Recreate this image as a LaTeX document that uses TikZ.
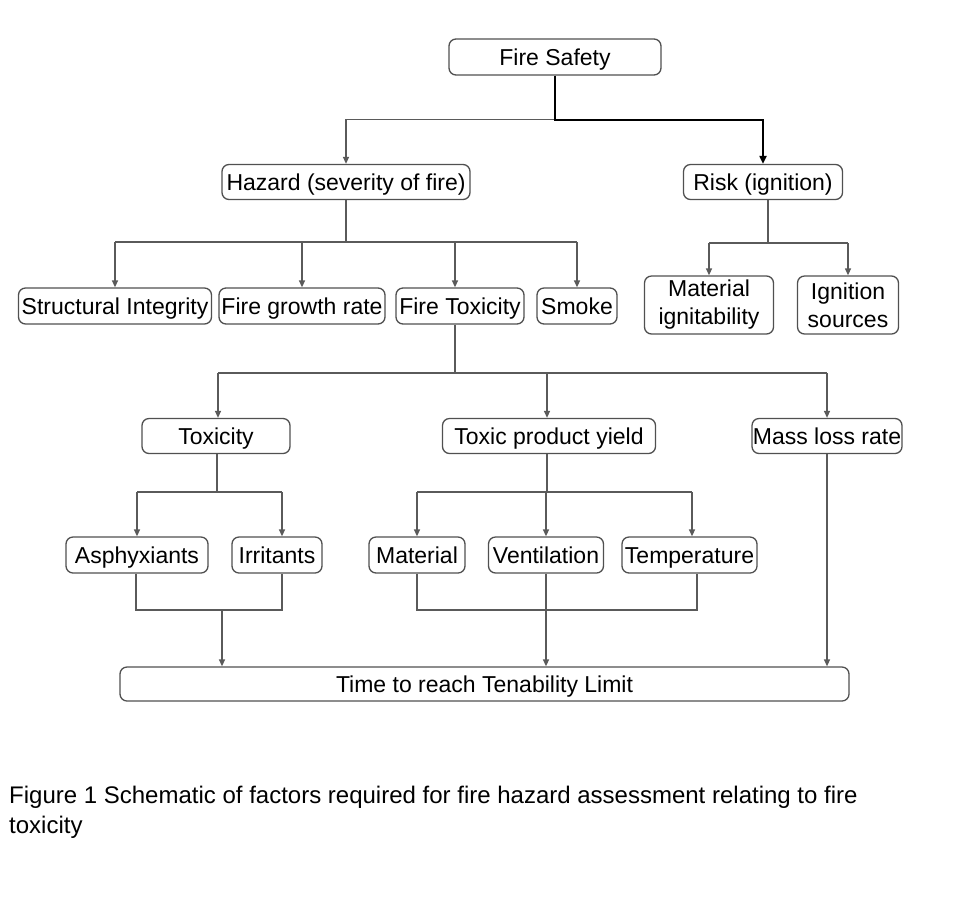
\documentclass[tikz,border=0pt]{standalone}
\usepackage{fontspec}
\setmainfont{Liberation Sans}
\usetikzlibrary{arrows.meta,calc}
\definecolor{boxgray}{HTML}{505050}
\definecolor{linegray}{HTML}{5A5A5A}
\tikzset{
  box/.style={draw=boxgray, rounded corners=7pt, line width=1.3pt, inner sep=0pt, align=center,
    font=\fontsize{23}{28}\selectfont, text height=16.5pt, text depth=0pt},
  twoline/.style={text height={}, text depth={}},
  ln/.style={draw=linegray, line width=1.3pt},
  arr/.style={ln, -{Triangle[length=7pt,width=6pt]}},
}
\begin{document}
\begin{tikzpicture}[x=1pt,y=-1pt]
\useasboundingbox (0,0) rectangle (965,906);
% level 0
\node[box, minimum width=212, minimum height=36] (fs) at (555,57) {Fire Safety};
% level 1
\node[box, minimum width=248, minimum height=35] (haz) at (346,182) {Hazard (severity of fire)};
\node[box, minimum width=159, minimum height=35] (risk) at (763,182) {Risk (ignition)};
% level 2
\node[box, minimum width=193, minimum height=36] (si) at (115,306) {Structural Integrity};
\node[box, minimum width=166, minimum height=36] (fgr) at (302,306) {Fire growth rate};
\node[box, minimum width=128, minimum height=36] (ft) at (460,306) {Fire Toxicity};
\node[box, minimum width=80, minimum height=36] (sm) at (577,306) {Smoke};
\node[box, twoline, minimum width=129, minimum height=58] (mi) at (709,305) {Material\\ignitability};
\node[box, twoline, minimum width=101, minimum height=58] (is) at (848,305) {Ignition\\sources};
% level 3
\node[box, minimum width=148, minimum height=35] (tox) at (216,436) {Toxicity};
\node[box, minimum width=213, minimum height=35] (tpy) at (549,436) {Toxic product yield};
\node[box, minimum width=150, minimum height=35] (mlr) at (827,436) {Mass loss rate};
% level 4
\node[box, minimum width=142, minimum height=36] (asp) at (137,555) {Asphyxiants};
\node[box, minimum width=90, minimum height=36] (irr) at (277,555) {Irritants};
\node[box, minimum width=96, minimum height=36] (mat) at (417,555) {Material};
\node[box, minimum width=115, minimum height=36] (ven) at (546,555) {Ventilation};
\node[box, minimum width=135, minimum height=36] (tem) at (689.5,555) {Temperature};
% bottom
\node[box, minimum width=729, minimum height=34] (time) at (484.5,684) {Time to reach Tenability Limit};

% connectors: Fire Safety
\coordinate (j0) at ($(fs.south)+(0,44)$);
\draw[ln] (fs.south) -- (j0);
\draw[arr] (j0) -| (haz.north);
\draw[draw=black, line width=2.2pt, -{Triangle[length=8pt,width=7pt]}] (fs.south) |- (j0) -| (risk.north);

% Hazard children
\coordinate (j1) at (346,242);
\draw[ln] (haz.south) -- (j1);
\draw[ln] (si.north |- j1) -- (sm.north |- j1);
\draw[arr] (si.north |- j1) -- (si.north);
\draw[arr] (fgr.north |- j1) -- (fgr.north);
\draw[arr] (455,242) -- (455,0 |- ft.north);
\draw[arr] (sm.north |- j1) -- (sm.north);

% Risk children
\coordinate (j2) at (768,243);
\draw[ln] (risk.south -| j2) -- (j2);
\draw[ln] (mi.north |- j2) -- (is.north |- j2);
\draw[arr] (mi.north |- j2) -- (mi.north);
\draw[arr] (is.north |- j2) -- (is.north);

% Fire Toxicity children
\coordinate (j3) at (455,373);
\draw[ln] (ft.south -| j3) -- (j3);
\draw[ln] (218,373) -- (mlr.north |- j3);
\draw[arr] (218,373) -- (218,0 |- tox.north);
\draw[arr] (547,373) -- (547,0 |- tpy.north);
\draw[arr] (mlr.north |- j3) -- (mlr.north);

% Toxicity children
\coordinate (j4) at (217,492);
\draw[ln] (tox.south -| j4) -- (j4);
\draw[ln] (asp.north |- j4) -- (282,492);
\draw[arr] (asp.north |- j4) -- (asp.north);
\draw[arr] (282,492) -- (282,0 |- irr.north);

% Toxic product yield children
\coordinate (j5) at (547,492);
\draw[ln] (tpy.south -| j5) -- (j5);
\draw[ln] (mat.north |- j5) -- (692,492);
\draw[arr] (mat.north |- j5) -- (mat.north);
\draw[arr] (ven.north |- j5) -- (ven.north);
\draw[arr] (692,492) -- (692,0 |- tem.north);

% merges to Time
\coordinate (k1) at (222,610);
\draw[ln] (asp.south -| 136,0) |- (282,610) -- (282,0 |- irr.south);
\draw[arr] (k1) -- (time.north -| k1);
\draw[ln] (mat.south) |- (697,610) -- (697,0 |- tem.south);
\draw[arr] (ven.south) -- (time.north -| ven.south);
\draw[arr] (mlr.south) -- (time.north -| mlr.south);

% caption
\node[anchor=north west, align=left, inner sep=0pt, font=\fontsize{24}{30}\selectfont] (cap) at (9,786)
  {Figure 1 Schematic of factors required for fire hazard assessment relating to fire\\toxicity};
\end{tikzpicture}
\end{document}
